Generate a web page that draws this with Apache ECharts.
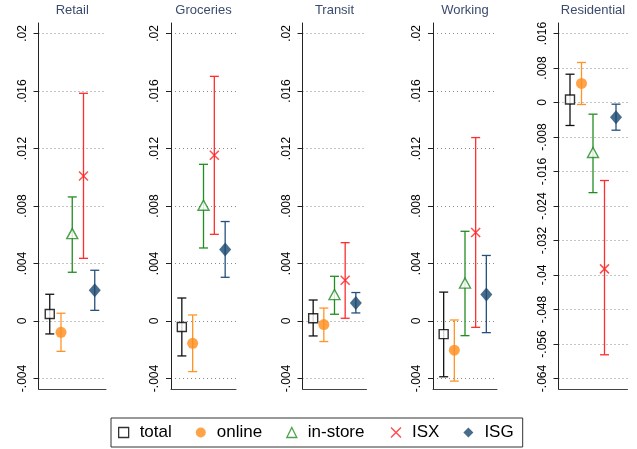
<!DOCTYPE html>
<html>
<head>
<meta charset="utf-8">
<script src="https://cdn.jsdelivr.net/npm/echarts@6/dist/echarts.min.js"></script>
<style>html,body{margin:0;padding:0;background:#fff;}#c{width:637px;height:449px;}</style>
</head>
<body>
<div id="c"></div>
<script>
// ---- data ----
const panelNames = ['Retail', 'Groceries', 'Transit', 'Working', 'Residential'];
const groupNames = ['total', 'online', 'in-store', 'ISX', 'ISG'];

const retailEst = [0.00049, -0.00079, 0.00608, 0.01009, 0.00214];
const retailLo  = [-0.0009, -0.00211, 0.00339, 0.00436, 0.00074];
const retailHi  = [0.00186, 0.00054, 0.00863, 0.01584, 0.00353];

const groceriesEst = [-0.00042, -0.00155, 0.00805, 0.01153, 0.00497];
const groceriesLo  = [-0.00243, -0.00352, 0.00508, 0.00603, 0.00304];
const groceriesHi  = [0.0016, 0.00042, 0.0109, 0.01702, 0.00692];

const transitEst = [0.00019, -0.00025, 0.00184, 0.00283, 0.00125];
const transitLo  = [-0.00104, -0.00143, 0.00047, 0.00019, 0.00056];
const transitHi  = [0.00146, 0.0009, 0.00311, 0.00545, 0.00198];

const workingEst = [-0.00091, -0.00203, 0.00264, 0.00615, 0.00185];
const workingLo  = [-0.00388, -0.00418, -0.00102, -0.00044, -0.00081];
const workingHi  = [0.00201, 0.00007, 0.00624, 0.01276, 0.00456];

const residentialEst = [0.0007, 0.00441, -0.0116, -0.03858, -0.00341];
const residentialLo  = [-0.00533, -0.00046, -0.0209, -0.0585, -0.00642];
const residentialHi  = [0.00656, 0.00928, -0.00271, -0.01809, -0.00039];

// y-axis tick settings
const yMinMain = -0.004, yMaxMain = 0.02, yStepMain = 0.004;
const yMinRes = -0.064, yMaxRes = 0.016, yStepRes = 0.008;

// ---- build ----
const estAll = [retailEst, groceriesEst, transitEst, workingEst, residentialEst];
const loAll = [retailLo, groceriesLo, transitLo, workingLo, residentialLo];
const hiAll = [retailHi, groceriesHi, transitHi, workingHi, residentialHi];
const yRanges = [
  [yMinMain, yMaxMain, yStepMain], [yMinMain, yMaxMain, yStepMain],
  [yMinMain, yMaxMain, yStepMain], [yMinMain, yMaxMain, yStepMain],
  [yMinRes, yMaxRes, yStepRes]
];

const panelLeft = [38.5, 171, 302.5, 433, 558.5];
const panelWidth = [67.5, 65, 64, 64, 69];
const outerTop = 23, outerBottom = 60;     // axis line extent
const innerTop = 33.5, innerBottom = 70.5; // tick extent
const innerH = 449 - innerTop - innerBottom;
const padPx = innerTop - outerTop;

const colors = ['#000000', '#ff8c1a', '#1f8a1f', '#ff2020', '#1a476f'];
const barColors = ['#111111', '#ff9426', '#228c22', '#ff2e2e', '#25507c'];
const xPath = 'path://M0,0L10,10M0,10L10,0';
const symbolDefs = [
  { symbol: 'rect', symbolSize: 9, itemStyle: { color: '#fff', borderColor: colors[0], borderWidth: 1.4 } },
  { symbol: 'circle', symbolSize: 11, itemStyle: { color: colors[1], borderColor: colors[1], borderWidth: 0 } },
  { symbol: 'triangle', symbolSize: [11, 10], itemStyle: { color: '#fff', borderColor: colors[2], borderWidth: 1.4 } },
  { symbol: xPath, symbolSize: 9, itemStyle: { color: 'none', borderColor: colors[3], borderWidth: 1.5 } },
  { symbol: 'diamond', symbolSize: [12, 14], itemStyle: { color: colors[4], borderColor: colors[4], borderWidth: 0 } }
];

function fmt(v) {
  if (Math.abs(v) < 1e-12) return '0';
  const s = parseFloat(v.toFixed(4)).toString();
  return s.replace(/^(-?)0\./, '$1.');
}

const grid = [], xAxis = [], yAxis = [], series = [], title = [];
panelNames.forEach((name, p) => {
  const [ymin, ymax, ystep] = yRanges[p];
  const pad = (ymax - ymin) * padPx / innerH;
  grid.push({ left: panelLeft[p], width: panelWidth[p], top: outerTop, bottom: outerBottom });
  grid.push({ left: panelLeft[p], width: panelWidth[p], top: innerTop, bottom: innerBottom });
  xAxis.push({
    gridIndex: 2 * p, type: 'value', min: 0, max: 6,
    axisLine: { show: true, onZero: false, lineStyle: { color: '#444', width: 1 } },
    axisTick: { show: false }, axisLabel: { show: false }, splitLine: { show: false }
  });
  xAxis.push({ gridIndex: 2 * p + 1, type: 'value', min: 0, max: 6, show: false });
  yAxis.push({
    gridIndex: 2 * p, type: 'value', min: ymin - pad, max: ymax + pad,
    axisLine: { show: true, onZero: false, lineStyle: { color: '#222', width: 1 } },
    axisTick: { show: false }, axisLabel: { show: false }, splitLine: { show: false }
  });
  yAxis.push({
    gridIndex: 2 * p + 1, type: 'value', min: ymin, max: ymax, interval: ystep,
    axisLine: { show: false },
    axisTick: { show: true, length: 5, lineStyle: { color: '#222', width: 1 } },
    axisLabel: { show: true, rotate: 90, margin: 10, fontFamily: 'Liberation Sans, Arial, sans-serif', fontSize: 12, color: '#000', formatter: fmt },
    splitLine: { show: true, lineStyle: { color: '#8a8a8a', type: [1, 3], width: 1 } }
  });
  title.push({
    text: name, left: panelLeft[p] + panelWidth[p] / 2, top: 4, textAlign: 'center', padding: 0,
    textStyle: { fontFamily: 'Liberation Sans, Arial, sans-serif', fontSize: 13, fontWeight: 'normal', color: '#3b4b6e' }
  });
  series.push({
    type: 'custom', xAxisIndex: 2 * p, yAxisIndex: 2 * p, silent: true, z: 2,
    encode: { x: 0, y: [1, 2] },
    data: groupNames.map((g, i) => [i + 1, loAll[p][i], hiAll[p][i], i]),
    renderItem: function (params, api) {
      const x = api.value(0), lo = api.value(1), hi = api.value(2), gi = api.value(3);
      const a = api.coord([x, lo]), b = api.coord([x, hi]);
      const hw = 4.5;
      const st = { stroke: barColors[gi], lineWidth: 1.3 };
      return {
        type: 'group', children: [
          { type: 'line', shape: { x1: a[0], y1: a[1], x2: b[0], y2: b[1] }, style: st },
          { type: 'line', shape: { x1: a[0] - hw, y1: a[1], x2: a[0] + hw, y2: a[1] }, style: st },
          { type: 'line', shape: { x1: b[0] - hw, y1: b[1], x2: b[0] + hw, y2: b[1] }, style: st }
        ]
      };
    }
  });
  groupNames.forEach((g, i) => {
    series.push(Object.assign({
      type: 'scatter', name: g, xAxisIndex: 2 * p, yAxisIndex: 2 * p, z: 3, silent: true,
      data: [[i + 1, estAll[p][i]]]
    }, JSON.parse(JSON.stringify(symbolDefs[i]))));
  });
});

const legendIcons = ['rect', 'circle', 'triangle', xPath, 'diamond'];
const legendStyles = [
  { color: '#fff', borderColor: colors[0], borderWidth: 1.3 },
  { color: colors[1], borderColor: colors[1], borderWidth: 0 },
  { color: '#fff', borderColor: colors[2], borderWidth: 1.3 },
  { color: 'none', borderColor: colors[3], borderWidth: 1.4 },
  { color: colors[4], borderColor: colors[4], borderWidth: 0 }
];

const option = {
  animation: false,
  backgroundColor: '#fff',
  title: title,
  grid: grid, xAxis: xAxis, yAxis: yAxis, series: series,
  legend: {
    left: 111, top: 418, orient: 'horizontal',
    padding: [6, 9, 6, 7], itemWidth: 10, itemHeight: 10, itemGap: 24,
    borderColor: '#333', borderWidth: 1, borderRadius: 0, backgroundColor: '#fff',
    selectedMode: false,
    textStyle: { fontFamily: 'Liberation Sans, Arial, sans-serif', fontSize: 17, color: '#000', padding: [0, 0, 0, 6] },
    data: groupNames.map((n, i) => ({ name: n, icon: legendIcons[i], itemStyle: legendStyles[i] }))
  }
};

const chart = echarts.init(document.getElementById('c'), null, { renderer: 'canvas' });
chart.setOption(option);
</script>
</body>
</html>
